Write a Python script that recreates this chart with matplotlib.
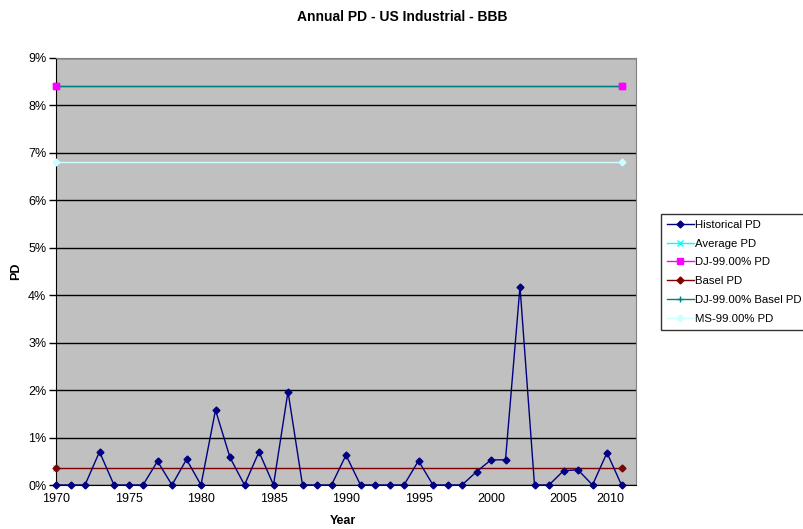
import matplotlib
matplotlib.use("Agg")
import matplotlib.pyplot as plt
import matplotlib.transforms as mtransforms
from matplotlib.ticker import FuncFormatter, MultipleLocator

plt.rcParams['font.family'] = ['Liberation Sans', 'DejaVu Sans']

years = list(range(1970, 2010))
historical_pd = [0.00, 0.00, 0.00, 0.70, 0.00, 0.00, 0.00, 0.50, 0.00, 0.54,
                 0.00, 1.58, 0.58, 0.00, 0.70, 0.00, 1.97, 0.00, 0.00, 0.00,
                 0.63, 0.00, 0.00, 0.00, 0.00, 0.51, 0.00, 0.00, 0.00, 0.28,
                 0.53, 0.53, 4.18, 0.00, 0.00, 0.30, 0.32, 0.00, 0.68, 0.00]
end_years = [1970, 2009]
average_pd = [0.36, 0.36]
dj_pd = [8.40, 8.40]
basel_pd = [0.36, 0.36]
dj_basel_pd = [8.40, 8.40]
ms_pd = [6.80, 6.80]

title = "Annual PD - US Industrial - BBB"
x_ticks = [1970, 1975, 1980, 1985, 1990, 1995, 2000, 2005, 2010]

fig = plt.figure(figsize=(8.04, 5.29), dpi=100)
fig.patch.set_facecolor('white')
ax = fig.add_axes([56/804, 1-485/529, (636-56)/804, (485-58)/529])
ax.set_facecolor('#C0C0C0')

l_hist, = ax.plot(years, historical_pd, color='#000080', lw=1, marker='D', ms=3.5,
                  mfc='#000080', mec='#000080', label='Historical PD', zorder=5, clip_on=False)
l_avg, = ax.plot(end_years, average_pd, color='#00FFFF', lw=1, marker='x', ms=4,
                 label='Average PD', zorder=2, clip_on=False)
l_dj, = ax.plot(end_years, dj_pd, color='#FF00FF', lw=1, marker='s', ms=4.5,
                label='DJ-99.00% PD', zorder=2, clip_on=False)
l_basel, = ax.plot(end_years, basel_pd, color='#800000', lw=1, marker='D', ms=3.5,
                   label='Basel PD', zorder=3, clip_on=False)
l_djb, = ax.plot(end_years, dj_basel_pd, color='#008080', lw=1, marker='+', ms=5,
                 label='DJ-99.00% Basel PD', zorder=3, clip_on=False)
ax.plot(end_years, dj_pd, ls='none', marker='s', ms=4.5, color='#FF00FF', zorder=4, clip_on=False)
l_ms, = ax.plot(end_years, ms_pd, color='#CCFFFF', lw=1, marker='D', ms=3.5,
                label='MS-99.00% PD', zorder=3, clip_on=False)

ax.set_xlim(1970, 2010)
ax.set_ylim(0, 9)
ax.set_xticks(x_ticks)
ax.yaxis.set_major_locator(MultipleLocator(1))
ax.yaxis.set_major_formatter(FuncFormatter(lambda v, p: f"{v:.0f}%"))
ax.grid(axis='y', color='black', lw=1)
ax.set_axisbelow(True)
ax.tick_params(axis='y', direction='out', length=5, width=1, labelsize=9, pad=2)
ax.tick_params(axis='x', length=0, labelsize=9, pad=6)
for s in ['top', 'right']:
    ax.spines[s].set_color('#808080')
ax.spines['left'].set_color('black')
ax.spines['bottom'].set_color('black')

# last x label sits shifted left inside the plot edge, as in the reference
fig.canvas.draw()
last = ax.get_xticklabels()[-1]
last.set_transform(last.get_transform() + mtransforms.ScaledTranslation(-26/100, 0, fig.dpi_scale_trans))

fig.text(343/804, 1-521/529, 'Year', ha='center', va='center', fontsize=9, fontweight='bold')
fig.text(16/804, 1-271/529, 'PD', ha='center', va='center', fontsize=9, fontweight='bold', rotation=90)
fig.text(0.5, 1-17/529, title, ha='center', va='center', fontsize=10, fontweight='bold')

leg = fig.legend(handles=[l_hist, l_avg, l_dj, l_basel, l_djb, l_ms],
                 loc='upper left', bbox_to_anchor=(661/804, 1-214/529),
                 fontsize=8.2, frameon=True, fancybox=False, edgecolor='black',
                 borderpad=0.5, labelspacing=0.78, handlelength=2.4, handletextpad=0.1,
                 borderaxespad=0)
leg.get_frame().set_linewidth(1)

fig.savefig('out.png', dpi=100)
